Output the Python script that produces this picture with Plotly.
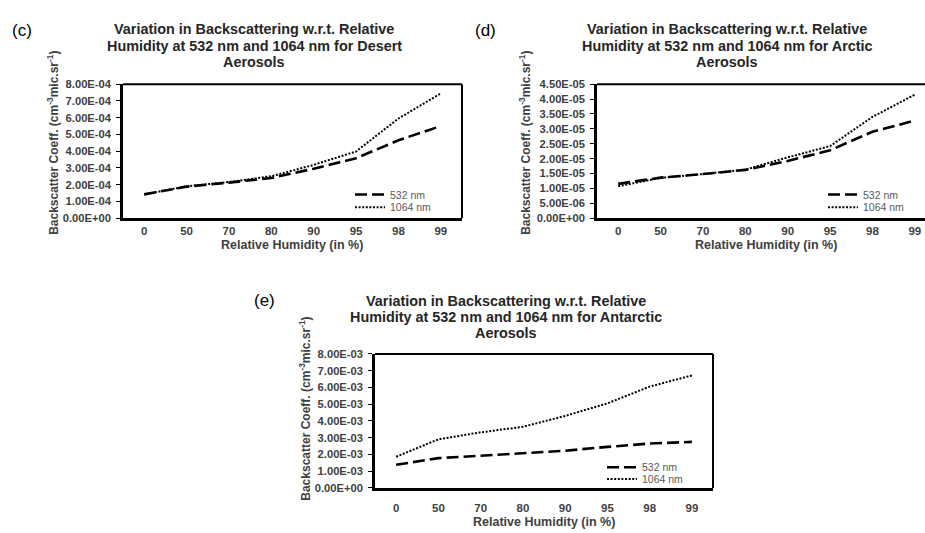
import plotly.graph_objects as go

# ---------------- data ----------------
rh = ["0", "50", "70", "80", "90", "95", "98", "99"]

desert_532 = [1.42e-4, 1.88e-4, 2.12e-4, 2.40e-4, 2.95e-4, 3.58e-4, 4.65e-4, 5.50e-4]
desert_1064 = [1.42e-4, 1.90e-4, 2.16e-4, 2.50e-4, 3.18e-4, 3.98e-4, 5.95e-4, 7.45e-4]

arctic_532 = [1.15e-5, 1.36e-5, 1.48e-5, 1.62e-5, 1.92e-5, 2.28e-5, 2.90e-5, 3.28e-5]
arctic_1064 = [1.07e-5, 1.35e-5, 1.48e-5, 1.63e-5, 2.04e-5, 2.42e-5, 3.40e-5, 4.15e-5]

antarctic_532 = [1.38e-3, 1.78e-3, 1.92e-3, 2.05e-3, 2.22e-3, 2.45e-3, 2.65e-3, 2.75e-3]
antarctic_1064 = [1.86e-3, 2.90e-3, 3.32e-3, 3.65e-3, 4.30e-3, 5.05e-3, 6.05e-3, 6.72e-3]

desert_yticks = [0, 1e-4, 2e-4, 3e-4, 4e-4, 5e-4, 6e-4, 7e-4, 8e-4]
arctic_yticks = [0, 5e-6, 1e-5, 1.5e-5, 2e-5, 2.5e-5, 3e-5, 3.5e-5, 4e-5, 4.5e-5]
antarctic_yticks = [0, 1e-3, 2e-3, 3e-3, 4e-3, 5e-3, 6e-3, 7e-3, 8e-3]

series_names = ["532 nm", "1064 nm"]
titles = {
    "c": ["Variation in Backscattering w.r.t. Relative",
          "Humidity at 532 nm and 1064 nm for Desert", "Aerosols"],
    "d": ["Variation in Backscattering w.r.t. Relative",
          "Humidity at 532 nm and 1064 nm for Arctic", "Aerosols"],
    "e": ["Variation in Backscattering w.r.t. Relative",
          "Humidity at 532 nm and 1064 nm for Antarctic", "Aerosols"],
}
x_title = "Relative Humidity (in %)"
y_title = "Backscatter Coeff. (cm<sup>-3</sup>mic.sr<sup>-1</sup>)"

# ---------------- layout helpers ----------------
W, H = 925, 533
FONT = "Liberation Sans, Arial, sans-serif"


def px_x(p):
    return p / W


def px_y(p):
    return 1 - p / H


panels = [
    dict(key="c", d1=desert_532, d2=desert_1064, yt=desert_yticks,
         box=(123, 80, 462, 217), xr=[-0.5, 7.5], tcx=254, tys=(24, 40.5, 57),
         lab=(22, 25), ytp=(53, 140), xtp=(292, 244), xso=0, leg=(350, 194, 207)),
    dict(key="d", d1=arctic_532, d2=arctic_1064, yt=arctic_yticks,
         box=(597, 80, 925, 217), xr=[-0.5, 7.24], tcx=727, tys=(24, 40.5, 57),
         lab=(486, 25), ytp=(525, 140), xtp=(766, 244), xso=0, leg=(823, 194, 207),
         noright=True),
    dict(key="e", d1=antarctic_532, d2=antarctic_1064, yt=antarctic_yticks,
         box=(375, 356, 713, 493), xr=[-0.5, 7.5], tcx=506, tys=(301.5, 318, 334.5),
         lab=(264, 301), ytp=(305, 412), xtp=(544, 528), xso=8, leg=(602, 473, 485)),
]

LEG_OFFSET = 16  # distance from legend top to first item centre

fig = go.Figure()
annotations = []
shapes = []
layout = dict(
    width=W, height=H, margin=dict(l=0, r=0, t=0, b=0),
    paper_bgcolor="white", plot_bgcolor="white",
    font=dict(family=FONT, color="#262626"),
    showlegend=True,
)

for i, p in enumerate(panels):
    n = i + 1
    xa = "x" if n == 1 else f"x{n}"
    ya = "y" if n == 1 else f"y{n}"
    leg_a = "legend" if i == 0 else f"legend{2 * i + 1}"
    leg_b = f"legend{2 * i + 2}"
    l, t, r, b = p["box"]

    fig.add_trace(go.Scatter(
        x=rh, y=p["d1"], mode="lines", name=series_names[0],
        line=dict(color="black", width=2.6, dash="12px,5px"),
        xaxis=xa, yaxis=ya, legend=leg_a))
    fig.add_trace(go.Scatter(
        x=rh, y=p["d2"], mode="lines", name=series_names[1],
        line=dict(color="black", width=2, dash="2px,1.6px"),
        xaxis=xa, yaxis=ya, legend=leg_b))

    xkey = "xaxis" if n == 1 else f"xaxis{n}"
    ykey = "yaxis" if n == 1 else f"yaxis{n}"
    layout[xkey] = dict(
        domain=[px_x(l), min(px_x(r), 1.0)], anchor=ya, type="category",
        range=p["xr"], showline=True, linecolor="black", linewidth=2.5,
        ticks="", showgrid=False, zeroline=False, ticklabelstandoff=p["xso"],
        tickfont=dict(size=11.5, color="#404040", weight="bold"),
    )
    layout[ykey] = dict(
        domain=[px_y(b), px_y(t)], anchor=xa,
        range=[p["yt"][0], p["yt"][-1]],
        tickvals=p["yt"], ticktext=[f"{v:.2E}" for v in p["yt"]],
        showline=True, linecolor="black", linewidth=2.5,
        ticks="outside", ticklen=4, tickcolor="black", tickwidth=1,
        showgrid=False, zeroline=False, ticklabelstandoff=3,
        tickfont=dict(size=11.2, color="#404040", weight="bold"),
    )

    # top and right border
    shapes.append(dict(type="line", xref=f"{xa} domain", yref=f"{ya} domain",
                       x0=0, x1=1, y0=1, y1=1, line=dict(color="black", width=2)))
    if not p.get("noright"):
        shapes.append(dict(type="line", xref=f"{xa} domain", yref=f"{ya} domain",
                           x0=1, x1=1, y0=0, y1=1, line=dict(color="black", width=2)))

    # titles
    for line_txt, yy in zip(titles[p["key"]], p["tys"]):
        annotations.append(dict(
            text=line_txt, x=px_x(p["tcx"]), y=px_y(yy), xref="paper", yref="paper",
            xanchor="center", yanchor="middle", showarrow=False,
            font=dict(size=14.4, color="#262626", weight="bold")))
    # panel label
    annotations.append(dict(
        text=f"({p['key']})", x=px_x(p["lab"][0]), y=px_y(p["lab"][1]),
        xref="paper", yref="paper", xanchor="center", yanchor="middle",
        showarrow=False, font=dict(size=17, color="black")))
    # y-axis title
    annotations.append(dict(
        text=y_title, x=px_x(p["ytp"][0]), y=px_y(p["ytp"][1]),
        xref="paper", yref="paper", xanchor="center", yanchor="middle",
        textangle=-90, showarrow=False,
        font=dict(size=12, color="#404040", weight="bold")))
    # x-axis title
    annotations.append(dict(
        text=x_title, x=px_x(p["xtp"][0]), y=px_y(p["xtp"][1]),
        xref="paper", yref="paper", xanchor="center", yanchor="middle",
        showarrow=False, font=dict(size=12.5, color="#404040", weight="bold")))

    for lg, yc in ((leg_a, p["leg"][1]), (leg_b, p["leg"][2])):
        layout[lg] = dict(
            x=px_x(p["leg"][0]), y=px_y(yc - LEG_OFFSET), xanchor="left", yanchor="top",
            bgcolor="rgba(0,0,0,0)", borderwidth=0,
            font=dict(size=10.5, color="#595959"), itemwidth=30)

layout["annotations"] = annotations
layout["shapes"] = shapes
fig.update_layout(**layout)

fig.write_html("out.html")
